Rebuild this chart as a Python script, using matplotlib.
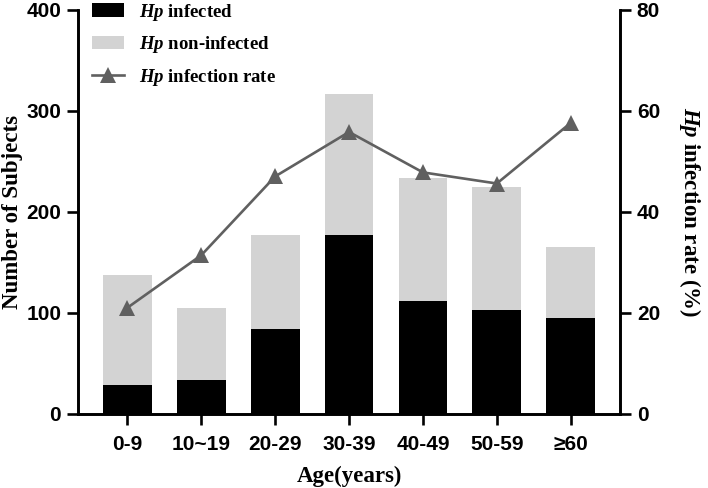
import numpy as np
import matplotlib.pyplot as plt
from matplotlib.lines import Line2D
from matplotlib.patches import Patch

ages = ["0-9", "10~19", "20-29", "30-39", "40-49", "50-59", "≥60"]
infected = [29, 33, 84, 177, 112, 103, 95]
totals = [137, 105, 177, 317, 233, 225, 165]
rate = [21.0, 31.4, 47.0, 55.8, 47.8, 45.6, 57.6]

non_infected = [t - i for t, i in zip(totals, infected)]

plt.rcParams["font.family"] = ["Liberation Sans", "DejaVu Sans"]
plt.rcParams["font.weight"] = "bold"
plt.rcParams["mathtext.fontset"] = "custom"
plt.rcParams["mathtext.bfit"] = "Liberation Serif:italic:bold"
plt.rcParams["mathtext.it"] = "Liberation Serif:italic:bold"

fig = plt.figure(figsize=(7.08, 4.88), dpi=100)
ax = fig.add_axes([0.110, 0.152, 0.766, 0.828])
ax2 = ax.twinx()

x = np.arange(len(ages))
ax.bar(x, infected, width=0.66, color="black", zorder=2)
ax.bar(x, non_infected, width=0.66, bottom=infected, color="#d3d3d3", zorder=2)

line_col = "#606060"
ax2.plot(x, rate, color=line_col, lw=1.9, marker="^", markersize=12,
         markeredgewidth=0, zorder=3)

ax.set_xlim(-0.67, 6.67)
ax.set_ylim(0, 400)
ax2.set_ylim(0, 80)
ax.set_yticks([0, 100, 200, 300, 400])
ax2.set_yticks([0, 20, 40, 60, 80])
ax.set_xticks(x)
ax.set_xticklabels(ages)

for a in (ax, ax2):
    a.spines["top"].set_visible(False)
    for s in ("left", "right", "bottom"):
        a.spines[s].set_linewidth(1.9)
    a.tick_params(width=1.9, length=8, labelsize=15, pad=4)
ax.tick_params(axis="x", length=8, pad=7)

serif = ["Liberation Serif", "DejaVu Serif"]
ax.set_xlabel("Age(years)", fontsize=16.5, fontweight="bold", family=serif,
              labelpad=9)
ax.set_ylabel("Number of Subjects", fontsize=16.5, fontweight="bold",
              family=serif)
ax.yaxis.set_label_coords(-0.102, 0.5)
ax2.set_ylabel(r"$\mathbfit{Hp}$ infection rate (%)", fontsize=16.5,
               fontweight="bold", family=serif, rotation=270, labelpad=31)

handles = [
    Patch(facecolor="black"),
    Patch(facecolor="#d3d3d3"),
    Line2D([0], [0], color=line_col, lw=1.9, marker="^", markersize=12,
           markeredgewidth=0),
]
labels = [r"$\mathbfit{Hp}$ infected", r"$\mathbfit{Hp}$ non-infected",
          r"$\mathbfit{Hp}$ infection rate"]
leg = ax.legend(handles, labels, loc="upper left", bbox_to_anchor=(-0.005, 1.062),
                frameon=False, prop={"family": serif, "weight": "bold", "size": 13.5},
                handlelength=1.7, handleheight=0.7, handletextpad=0.8,
                labelspacing=0.62)

fig.savefig("out.png", dpi=100)
